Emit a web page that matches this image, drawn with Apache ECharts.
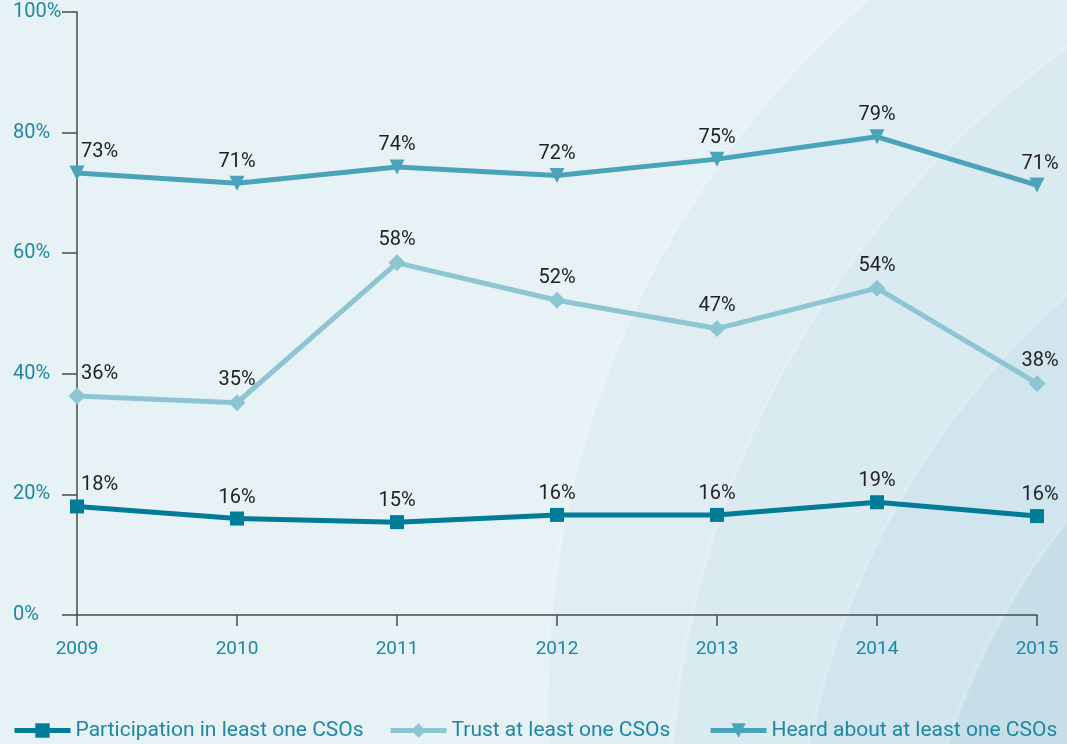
<!DOCTYPE html>
<html>
<head>
<meta charset="utf-8">
<script src="https://cdn.jsdelivr.net/npm/echarts@6/dist/echarts.min.js"></script>
<style>
html, body { margin: 0; padding: 0; background: #e7f2f7; }
#main { width: 1067px; height: 744px; }
</style>
</head>
<body>
<div id="main"></div>
<script>
// data
var years = ['2009', '2010', '2011', '2012', '2013', '2014', '2015'];
var participation = [18.0, 16.0, 15.4, 16.6, 16.6, 18.7, 16.4];
var participationLabels = ['18%', '16%', '15%', '16%', '16%', '19%', '16%'];
var trust = [36.3, 35.2, 58.4, 52.2, 47.5, 54.2, 38.4];
var trustLabels = ['36%', '35%', '58%', '52%', '47%', '54%', '38%'];
var heard = [73.3, 71.6, 74.3, 72.9, 75.6, 79.3, 71.3];
var heardLabels = ['73%', '71%', '74%', '72%', '75%', '79%', '71%'];
var yTicks = [0, 20, 40, 60, 80, 100];

var FONT = 'Roboto';

// first point label sits to the right of the marker
function points(values, labels) {
    return values.map(function (v, i) {
        var item = { value: v, label: { formatter: labels[i] } };
        if (i === 0) {
            item.label.align = 'left';
            item.label.offset = [4, 0];
        }
        if (i === values.length - 1) {
            item.label.offset = [3, 0];
        }
        return item;
    });
}

function lineSeries(name, values, labels, color, symbol, size, rotate) {
    return {
        name: name,
        type: 'line',
        data: points(values, labels),
        symbol: symbol,
        symbolSize: size,
        symbolRotate: rotate || 0,
        lineStyle: { color: color, width: 5 },
        itemStyle: { color: color },
        label: {
            show: true,
            position: 'top',
            distance: 4,
            color: '#222',
            fontFamily: FONT,
            fontSize: 20
        },
        z: 5
    };
}

function legend(name, left) {
    return {
        data: [name],
        left: left,
        top: 715,
        itemWidth: 56,
        itemHeight: 18,
        itemGap: 0,
        lineStyle: { width: 5 },
        textStyle: { color: '#1f87a4', fontFamily: FONT, fontSize: 21 }
    };
}

// background arcs
function arc(cx, cy, r, fill) {
    return {
        type: 'circle',
        shape: { cx: cx, cy: cy, r: r },
        style: { fill: fill, stroke: 'rgba(255,255,255,0.18)', lineWidth: 4 },
        silent: true,
        z: -10
    };
}

var myChart = echarts.init(document.getElementById('main'));
myChart.setOption({
    backgroundColor: '#e7f2f7',
    animation: false,
    graphic: [
        arc(1478, 703, 931, '#e0eef4'),
        arc(1627, 825, 958, '#d9eaf1'),
        arc(1600, 900, 806, '#d0e5ed'),
        arc(1600, 950, 684, '#c5dee7')
    ],
    grid: { left: 77, right: 30, top: 12, bottom: 129, outerBoundsMode: 'none' },
    legend: [
        legend('Participation in least one CSOs', 7),
        legend('Trust at least one CSOs', 383),
        legend('Heard about at least one CSOs', 703)
    ],
    xAxis: {
        type: 'category',
        boundaryGap: false,
        data: years,
        axisLine: { lineStyle: { color: '#4a4a4a', width: 1.5 } },
        axisTick: { length: 11, lineStyle: { color: '#4a4a4a', width: 1.5 } },
        axisLabel: { color: '#1f87a4', fontFamily: FONT, fontSize: 19, margin: 25 },
        splitLine: { show: false }
    },
    yAxis: {
        type: 'value',
        min: 0,
        max: 100,
        interval: 20,
        axisLine: { show: true, lineStyle: { color: '#4a4a4a', width: 1.5 } },
        axisTick: { show: true, length: 15, lineStyle: { color: '#4a4a4a', width: 1.5 } },
        axisLabel: {
            color: '#1f87a4',
            fontFamily: FONT,
            fontSize: 20,
            align: 'left',
            margin: 64,
            verticalAlign: 'middle',
            padding: [4, 0, 0, 0],
            formatter: function (v) { return yTicks.indexOf(v) >= 0 ? v + '%' : ''; }
        },
        splitLine: { show: false }
    },
    series: [
        lineSeries('Participation in least one CSOs', participation, participationLabels, '#007b98', 'rect', 14),
        lineSeries('Trust at least one CSOs', trust, trustLabels, '#8dc5d3', 'diamond', 17),
        lineSeries('Heard about at least one CSOs', heard, heardLabels, '#4ba3ba', 'triangle', 15, 180)
    ]
});
</script>
</body>
</html>
